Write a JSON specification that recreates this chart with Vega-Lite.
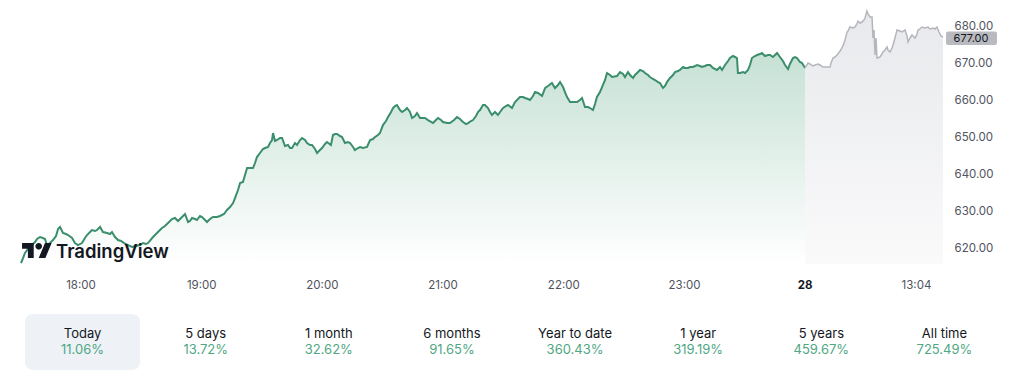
{
  "$schema": "https://vega.github.io/schema/vega-lite/v6.json",
  "padding": {"left": 17, "top": 0, "right": 0, "bottom": 0},
  "background": "#ffffff",
  "spacing": 23,
  "config": {"view": {"stroke": null}, "font": "Inter", "axis": {"labelFont": "Inter"}},
  "datasets": {
    "today": [
      {"t":17.507,"p":615.95},{"t":17.524,"p":617.30},{"t":17.540,"p":618.65},{"t":17.565,"p":619.73},{"t":17.598,"p":620.81},{"t":17.623,"p":621.62},{"t":17.640,"p":622.43},{"t":17.664,"p":622.97},{"t":17.689,"p":622.70},{"t":17.706,"p":622.43},{"t":17.722,"p":620.81},{"t":17.747,"p":621.35},{"t":17.772,"p":622.16},{"t":17.797,"p":623.24},{"t":17.814,"p":625.14},{"t":17.830,"p":625.68},{"t":17.855,"p":624.05},{"t":17.880,"p":623.78},{"t":17.897,"p":623.51},{"t":17.930,"p":622.70},{"t":17.954,"p":621.35},{"t":17.979,"p":620.81},{"t":18.012,"p":621.35},{"t":18.037,"p":622.70},{"t":18.054,"p":623.51},{"t":18.079,"p":624.32},{"t":18.095,"p":624.86},{"t":18.120,"p":624.59},{"t":18.137,"p":624.86},{"t":18.162,"p":625.68},{"t":18.186,"p":624.32},{"t":18.220,"p":624.05},{"t":18.245,"p":623.78},{"t":18.261,"p":624.32},{"t":18.286,"p":622.97},{"t":18.311,"p":622.16},{"t":18.336,"p":621.89},{"t":18.361,"p":621.35},{"t":18.394,"p":620.81},{"t":18.427,"p":620.27},{"t":18.460,"p":620.54},{"t":18.493,"p":620.81},{"t":18.518,"p":621.35},{"t":18.543,"p":621.08},{"t":18.559,"p":621.35},{"t":18.601,"p":622.97},{"t":18.642,"p":624.32},{"t":18.675,"p":625.41},{"t":18.700,"p":625.95},{"t":18.725,"p":626.76},{"t":18.758,"p":627.84},{"t":18.783,"p":628.11},{"t":18.808,"p":627.30},{"t":18.833,"p":628.11},{"t":18.866,"p":629.19},{"t":18.891,"p":627.03},{"t":18.907,"p":627.30},{"t":18.924,"p":628.11},{"t":18.949,"p":627.84},{"t":18.965,"p":627.57},{"t":18.990,"p":628.65},{"t":19.007,"p":628.38},{"t":19.032,"p":627.57},{"t":19.048,"p":627.03},{"t":19.073,"p":627.84},{"t":19.098,"p":628.38},{"t":19.131,"p":628.38},{"t":19.156,"p":628.65},{"t":19.189,"p":629.19},{"t":19.214,"p":630.27},{"t":19.239,"p":631.08},{"t":19.264,"p":632.16},{"t":19.280,"p":633.51},{"t":19.305,"p":635.68},{"t":19.322,"p":637.57},{"t":19.346,"p":637.84},{"t":19.363,"p":639.73},{"t":19.380,"p":641.62},{"t":19.404,"p":641.62},{"t":19.429,"p":641.62},{"t":19.446,"p":642.97},{"t":19.462,"p":644.59},{"t":19.487,"p":645.68},{"t":19.512,"p":646.76},{"t":19.529,"p":647.03},{"t":19.554,"p":647.30},{"t":19.570,"p":648.38},{"t":19.587,"p":649.19},{"t":19.595,"p":651.08},{"t":19.612,"p":648.92},{"t":19.628,"p":649.19},{"t":19.653,"p":649.73},{"t":19.670,"p":649.73},{"t":19.694,"p":647.57},{"t":19.719,"p":647.84},{"t":19.736,"p":647.03},{"t":19.752,"p":647.03},{"t":19.777,"p":648.38},{"t":19.794,"p":647.84},{"t":19.819,"p":649.19},{"t":19.835,"p":649.73},{"t":19.860,"p":649.19},{"t":19.877,"p":648.38},{"t":19.902,"p":647.84},{"t":19.918,"p":647.84},{"t":19.943,"p":646.76},{"t":19.960,"p":645.68},{"t":19.984,"p":646.49},{"t":20.001,"p":647.03},{"t":20.026,"p":648.11},{"t":20.042,"p":648.65},{"t":20.075,"p":647.84},{"t":20.092,"p":650.54},{"t":20.109,"p":650.81},{"t":20.125,"p":650.81},{"t":20.150,"p":650.27},{"t":20.167,"p":650.00},{"t":20.191,"p":648.38},{"t":20.216,"p":648.65},{"t":20.233,"p":648.38},{"t":20.258,"p":647.30},{"t":20.274,"p":646.49},{"t":20.299,"p":647.03},{"t":20.316,"p":647.30},{"t":20.341,"p":647.03},{"t":20.374,"p":647.30},{"t":20.399,"p":649.19},{"t":20.423,"p":649.46},{"t":20.440,"p":650.00},{"t":20.465,"p":650.54},{"t":20.481,"p":651.08},{"t":20.506,"p":653.24},{"t":20.531,"p":654.32},{"t":20.548,"p":655.41},{"t":20.573,"p":656.76},{"t":20.589,"p":657.84},{"t":20.606,"p":658.38},{"t":20.622,"p":658.65},{"t":20.647,"p":657.30},{"t":20.664,"p":656.76},{"t":20.689,"p":657.30},{"t":20.705,"p":657.84},{"t":20.730,"p":656.76},{"t":20.747,"p":655.14},{"t":20.771,"p":655.68},{"t":20.788,"p":656.49},{"t":20.813,"p":655.14},{"t":20.829,"p":655.14},{"t":20.854,"p":655.14},{"t":20.879,"p":654.59},{"t":20.921,"p":653.78},{"t":20.945,"p":654.59},{"t":20.962,"p":655.14},{"t":20.987,"p":654.59},{"t":21.003,"p":654.05},{"t":21.037,"p":653.78},{"t":21.061,"p":653.78},{"t":21.095,"p":654.59},{"t":21.119,"p":655.41},{"t":21.144,"p":654.86},{"t":21.169,"p":654.05},{"t":21.194,"p":653.51},{"t":21.211,"p":653.78},{"t":21.235,"p":654.32},{"t":21.252,"p":654.59},{"t":21.277,"p":655.68},{"t":21.293,"p":656.76},{"t":21.310,"p":657.30},{"t":21.335,"p":658.65},{"t":21.351,"p":658.65},{"t":21.376,"p":657.84},{"t":21.393,"p":656.76},{"t":21.409,"p":655.95},{"t":21.434,"p":656.76},{"t":21.459,"p":655.95},{"t":21.476,"p":656.76},{"t":21.501,"p":657.84},{"t":21.525,"p":658.38},{"t":21.542,"p":658.65},{"t":21.575,"p":657.84},{"t":21.600,"p":659.46},{"t":21.625,"p":660.27},{"t":21.641,"p":660.81},{"t":21.666,"p":660.81},{"t":21.683,"p":660.54},{"t":21.708,"p":660.27},{"t":21.724,"p":660.00},{"t":21.749,"p":661.08},{"t":21.766,"p":662.16},{"t":21.790,"p":661.89},{"t":21.824,"p":661.08},{"t":21.849,"p":663.24},{"t":21.873,"p":663.78},{"t":21.906,"p":664.59},{"t":21.931,"p":663.24},{"t":21.956,"p":664.05},{"t":21.973,"p":664.86},{"t":21.998,"p":663.51},{"t":22.014,"p":662.16},{"t":22.031,"p":660.81},{"t":22.056,"p":659.46},{"t":22.080,"p":659.46},{"t":22.114,"p":659.46},{"t":22.138,"p":660.00},{"t":22.155,"p":660.54},{"t":22.180,"p":658.11},{"t":22.205,"p":658.11},{"t":22.221,"p":657.84},{"t":22.246,"p":657.30},{"t":22.263,"p":658.92},{"t":22.279,"p":660.81},{"t":22.304,"p":662.16},{"t":22.321,"p":663.51},{"t":22.346,"p":665.41},{"t":22.362,"p":667.30},{"t":22.387,"p":666.76},{"t":22.404,"p":666.22},{"t":22.445,"p":666.49},{"t":22.470,"p":667.57},{"t":22.495,"p":667.03},{"t":22.511,"p":666.22},{"t":22.536,"p":667.57},{"t":22.553,"p":666.76},{"t":22.578,"p":665.95},{"t":22.594,"p":666.76},{"t":22.611,"p":667.30},{"t":22.636,"p":668.11},{"t":22.660,"p":667.84},{"t":22.677,"p":667.30},{"t":22.702,"p":666.76},{"t":22.718,"p":666.22},{"t":22.743,"p":665.68},{"t":22.760,"p":665.41},{"t":22.785,"p":664.86},{"t":22.801,"p":664.59},{"t":22.826,"p":663.24},{"t":22.843,"p":663.78},{"t":22.859,"p":664.86},{"t":22.884,"p":665.95},{"t":22.909,"p":666.76},{"t":22.926,"p":667.57},{"t":22.950,"p":667.84},{"t":22.967,"p":668.11},{"t":22.992,"p":668.92},{"t":23.008,"p":668.65},{"t":23.033,"p":668.65},{"t":23.050,"p":668.92},{"t":23.075,"p":668.92},{"t":23.108,"p":669.46},{"t":23.133,"p":669.19},{"t":23.149,"p":668.92},{"t":23.174,"p":669.19},{"t":23.191,"p":669.46},{"t":23.216,"p":669.46},{"t":23.240,"p":668.65},{"t":23.273,"p":668.11},{"t":23.298,"p":668.92},{"t":23.315,"p":668.11},{"t":23.340,"p":669.46},{"t":23.365,"p":670.54},{"t":23.381,"p":671.35},{"t":23.406,"p":671.89},{"t":23.423,"p":671.62},{"t":23.439,"p":671.35},{"t":23.447,"p":667.30},{"t":23.464,"p":667.30},{"t":23.489,"p":667.57},{"t":23.506,"p":667.30},{"t":23.530,"p":668.11},{"t":23.547,"p":669.46},{"t":23.563,"p":671.35},{"t":23.588,"p":671.89},{"t":23.605,"p":672.16},{"t":23.630,"p":672.43},{"t":23.646,"p":672.70},{"t":23.671,"p":671.89},{"t":23.696,"p":672.16},{"t":23.713,"p":672.16},{"t":23.737,"p":671.62},{"t":23.754,"p":672.16},{"t":23.771,"p":672.70},{"t":23.795,"p":671.62},{"t":23.820,"p":670.54},{"t":23.837,"p":669.46},{"t":23.862,"p":668.38},{"t":23.878,"p":669.73},{"t":23.903,"p":671.35},{"t":23.920,"p":671.62},{"t":23.936,"p":671.35},{"t":23.961,"p":670.27},{"t":23.978,"p":670.00},{"t":24.003,"p":668.65}
    ],
    "next": [
      {"t":24.003,"p":668.65},{"t":24.028,"p":670.00},{"t":24.044,"p":669.73},{"t":24.069,"p":669.19},{"t":24.086,"p":669.46},{"t":24.110,"p":669.73},{"t":24.127,"p":669.46},{"t":24.152,"p":668.92},{"t":24.177,"p":668.92},{"t":24.210,"p":668.92},{"t":24.218,"p":670.00},{"t":24.235,"p":671.35},{"t":24.251,"p":671.62},{"t":24.268,"p":672.16},{"t":24.293,"p":673.24},{"t":24.309,"p":674.05},{"t":24.326,"p":675.41},{"t":24.334,"p":676.22},{"t":24.351,"p":678.38},{"t":24.359,"p":678.65},{"t":24.375,"p":679.73},{"t":24.400,"p":679.46},{"t":24.417,"p":679.73},{"t":24.433,"p":680.54},{"t":24.442,"p":681.35},{"t":24.458,"p":680.81},{"t":24.475,"p":681.08},{"t":24.491,"p":681.62},{"t":24.500,"p":682.16},{"t":24.516,"p":684.05},{"t":24.525,"p":683.24},{"t":24.541,"p":682.43},{"t":24.558,"p":682.43},{"t":24.566,"p":676.76},{"t":24.574,"p":678.92},{"t":24.583,"p":672.16},{"t":24.591,"p":676.76},{"t":24.599,"p":671.35},{"t":24.624,"p":671.62},{"t":24.640,"p":672.43},{"t":24.649,"p":672.97},{"t":24.665,"p":673.51},{"t":24.682,"p":674.32},{"t":24.690,"p":673.51},{"t":24.707,"p":672.97},{"t":24.723,"p":674.05},{"t":24.732,"p":674.86},{"t":24.748,"p":676.76},{"t":24.765,"p":678.92},{"t":24.790,"p":678.65},{"t":24.806,"p":678.38},{"t":24.831,"p":678.92},{"t":24.848,"p":677.30},{"t":24.856,"p":675.68},{"t":24.873,"p":676.76},{"t":24.889,"p":677.57},{"t":24.914,"p":676.76},{"t":24.931,"p":677.84},{"t":24.939,"p":678.92},{"t":24.955,"p":679.19},{"t":24.972,"p":679.73},{"t":24.997,"p":679.46},{"t":25.022,"p":679.73},{"t":25.038,"p":679.19},{"t":25.063,"p":679.46},{"t":25.080,"p":679.19},{"t":25.096,"p":679.73},{"t":25.113,"p":678.38},{"t":25.129,"p":677.30},{"t":25.146,"p":677.00}
    ],
    "periods": [
      {"k":"Today","pct":"11.06%"},{"k":"5 days","pct":"13.72%"},{"k":"1 month","pct":"32.62%"},{"k":"6 months","pct":"91.65%"},{"k":"Year to date","pct":"360.43%"},{"k":"1 year","pct":"319.19%"},{"k":"5 years","pct":"459.67%"},{"k":"All time","pct":"725.49%"}
    ]
  },
  "vconcat": [
    {
      "width": 922,
      "height": 264,
      "layer": [
        {
          "data": {"name": "today"},
          "mark": {"type": "area", "color": {"gradient": "linear", "x1": 0, "y1": 0, "x2": 0, "y2": 1, "stops": [{"offset": 0, "color": "#c6e1d5"}, {"offset": 1, "color": "#ffffff"}]}},
          "encoding": {
            "x": {"field": "t", "type": "quantitative", "scale": {"domain": [17.507, 25.146], "nice": false, "zero": false},
              "axis": {"title": null, "values": [18, 19, 20, 21, 22, 23, 24, 24.922], "grid": false, "domain": false, "ticks": false, "labelPadding": 15, "labelFontSize": 11.5, "labelFlush": false, "labelOverlap": false,
                "labelExpr": "datum.value > 24.5 ? '13:04' : (datum.value == 24 ? '28' : datum.value + ':00')",
                "labelColor": {"condition": {"test": "datum.value == 24", "value": "#131722"}, "value": "#50535e"},
                "labelFontWeight": {"condition": {"test": "datum.value == 24", "value": "bold"}, "value": "normal"}}},
            "y": {"field": "p", "type": "quantitative", "scale": {"domain": [615.68, 687.03], "nice": false, "zero": false},
              "axis": {"title": null, "orient": "right", "values": [620, 630, 640, 650, 660, 670, 680], "format": ".2f", "grid": false, "domain": false, "ticks": false, "labelPadding": 11, "labelFontSize": 11.5, "labelColor": "#50535e"}},
            "y2": {"datum": 615.68}
          }
        },
        {
          "data": {"name": "next"},
          "mark": {"type": "area", "color": {"gradient": "linear", "x1": 0, "y1": 0, "x2": 0, "y2": 1, "stops": [{"offset": 0, "color": "#e8e9ec"}, {"offset": 1, "color": "#fafafb"}]}},
          "encoding": {
            "x": {"field": "t", "type": "quantitative"},
            "y": {"field": "p", "type": "quantitative"},
            "y2": {"datum": 615.68}
          }
        },
        {
          "data": {"name": "today"},
          "mark": {"type": "line", "color": "#3a8e6c", "strokeWidth": 2},
          "encoding": {
            "x": {"field": "t", "type": "quantitative"},
            "y": {"field": "p", "type": "quantitative"}
          }
        },
        {
          "data": {"name": "next"},
          "mark": {"type": "line", "color": "#b4b6bc", "strokeWidth": 1.5},
          "encoding": {
            "x": {"field": "t", "type": "quantitative"},
            "y": {"field": "p", "type": "quantitative"}
          }
        },
        {
          "data": {"values": [{}]},
          "mark": {"type": "point", "shape": "M-0.222,0.444H-0.611V-0.167H-1V-0.556H-0.222Z M0.556,0.444H0.111L0.528,-0.556H0.972Z M-0.111,-0.333A0.222,0.222 0 1 0 0.333,-0.333A0.222,0.222 0 1 0 -0.111,-0.333Z", "size": 900, "filled": true, "color": "#131722", "opacity": 1, "strokeWidth": 0},
          "encoding": {
            "x": {"datum": 17.640, "type": "quantitative"},
            "y": {"datum": 619.11, "type": "quantitative"}
          }
        },
        {
          "data": {"values": [{}]},
          "mark": {"type": "text", "text": "TradingView", "fontSize": 18.5, "fontWeight": 600, "color": "#131722", "align": "left", "baseline": "middle"},
          "encoding": {
            "x": {"datum": 17.797, "type": "quantitative"},
            "y": {"datum": 618.92, "type": "quantitative"}
          }
        },
        {
          "data": {"values": [{}]},
          "mark": {"type": "rect", "color": "#b9babf", "cornerRadius": 2},
          "encoding": {
            "x": {"datum": 25.171, "type": "quantitative"},
            "x2": {"datum": 25.593},
            "y": {"datum": 678.50, "type": "quantitative"},
            "y2": {"datum": 674.86}
          }
        },
        {
          "data": {"values": [{"last": "677.00"}]},
          "mark": {"type": "text", "fontSize": 11, "color": "#131722", "align": "center", "baseline": "middle"},
          "encoding": {
            "text": {"field": "last"},
            "x": {"datum": 25.378, "type": "quantitative"},
            "y": {"datum": 676.62, "type": "quantitative"}
          }
        }
      ]
    },
    {
      "width": 985,
      "height": 56,
      "data": {"name": "periods"},
      "encoding": {
        "x": {"field": "k", "type": "nominal", "sort": null, "scale": {"paddingInner": 0, "paddingOuter": 0}, "axis": null}
      },
      "layer": [
        {
          "transform": [{"filter": "datum.k === 'Today'"}],
          "mark": {"type": "bar", "color": "#eef2f7", "cornerRadius": 8, "width": {"band": 0.935}},
          "encoding": {
            "y": {"datum": 0, "type": "quantitative", "scale": {"domain": [0, 1], "nice": false}, "axis": null},
            "y2": {"datum": 1}
          }
        },
        {
          "mark": {"type": "text", "fontSize": 13, "color": "#131722", "baseline": "middle"},
          "encoding": {
            "text": {"field": "k"},
            "y": {"datum": 0.65, "type": "quantitative"}
          }
        },
        {
          "mark": {"type": "text", "fontSize": 13, "color": "#4fa783", "baseline": "middle"},
          "encoding": {
            "text": {"field": "pct"},
            "y": {"datum": 0.35, "type": "quantitative"}
          }
        }
      ]
    }
  ]
}
